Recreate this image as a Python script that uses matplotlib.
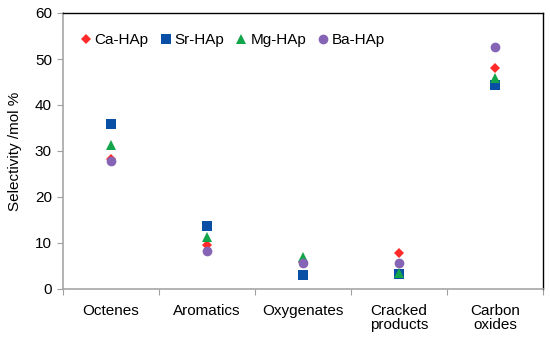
import numpy as np
import matplotlib
matplotlib.use("Agg")
import matplotlib.pyplot as plt
from matplotlib.ticker import FixedLocator, NullFormatter, FixedFormatter

plt.rcParams['font.family'] = ['Liberation Sans', 'DejaVu Sans']

categories = ["Octenes", "Aromatics", "Oxygenates", "Cracked\nproducts", "Carbon\noxides"]
ca_hap = [28.3, 9.6, 5.8, 7.8, 48.0]
sr_hap = [35.9, 13.7, 3.0, 3.3, 44.3]
mg_hap = [31.3, 11.3, 7.0, 3.5, 45.8]
ba_hap = [27.8, 8.3, 5.7, 5.7, 52.6]

series = [
    ("Ca-HAp", ca_hap, "D", "#FF2A2A", 5.5),
    ("Sr-HAp", sr_hap, "s", "#0A4FA6", 6.5),
    ("Mg-HAp", mg_hap, "^", "#12A54A", 7),
    ("Ba-HAp", ba_hap, "o", "#8563B5", 7),
]

fig = plt.figure(figsize=(5.5, 3.45), dpi=100)
ax = fig.add_axes([63/550, 1 - 289/345, 480/550, 276/345])

x = np.arange(len(categories))
for name, vals, mk, col, ms in series:
    ax.plot(x, vals, linestyle="none", marker=mk, color=col, markersize=ms,
            markeredgewidth=0, label=name)

ax.set_xlim(-0.5, len(categories) - 0.5)
ax.set_ylim(0, 60)
ax.set_yticks(range(0, 61, 10))

# category boundaries as ticks, labels centred
ax.xaxis.set_major_locator(FixedLocator(np.arange(-0.5, len(categories), 1.0)))
ax.xaxis.set_major_formatter(NullFormatter())
ax.xaxis.set_minor_locator(FixedLocator(x))
ax.xaxis.set_minor_formatter(FixedFormatter(categories))
ax.tick_params(axis="x", which="minor", length=0, labelsize=11, pad=11)
ax.tick_params(axis="x", which="major", length=4, color="#A0A0A0")
ax.tick_params(axis="y", length=4, color="#A0A0A0", labelsize=11, pad=4)
for lab in ax.xaxis.get_minorticklabels():
    lab.set_linespacing(0.95)

for side in ("left", "bottom"):
    ax.spines[side].set_color("#A6A6A6")
    ax.spines[side].set_linewidth(1.2)
for side in ("top", "right"):
    ax.spines[side].set_color("black")
    ax.spines[side].set_linewidth(1.0)

ax.set_ylabel("Selectivity /mol %", fontsize=11, labelpad=9)

ax.legend(loc="upper left", ncol=4, frameon=False, fontsize=11,
          handletextpad=0.1, columnspacing=0.6, handlelength=1.0,
          bbox_to_anchor=(0.012, 0.96), borderaxespad=0.2)

fig.savefig("out.png", dpi=100)
